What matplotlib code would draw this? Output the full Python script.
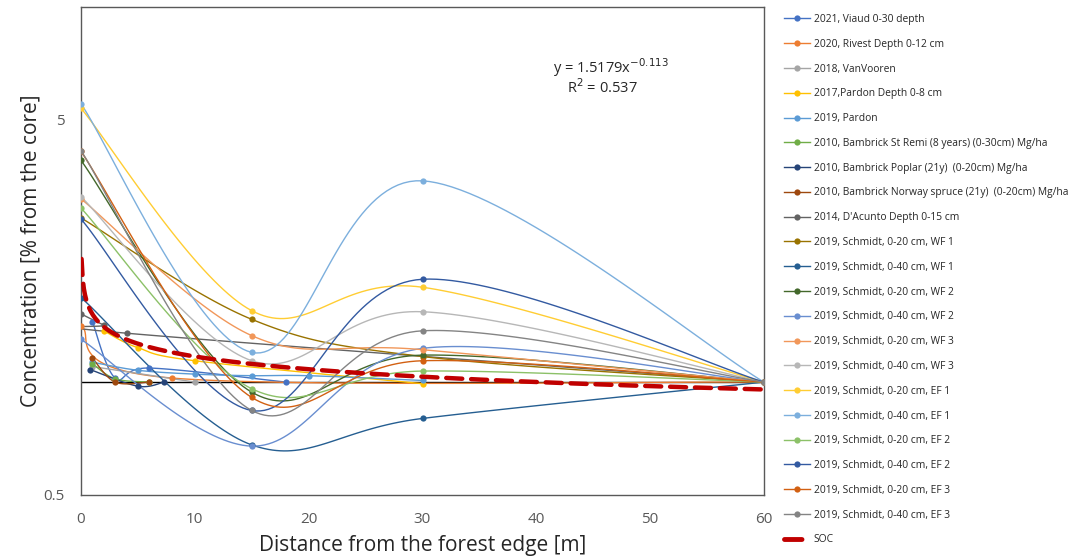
import numpy as np
import matplotlib
matplotlib.use("Agg")
import matplotlib.pyplot as plt
from matplotlib.lines import Line2D

# ---------------- data ----------------
labels = [
    "2021, Viaud 0-30 depth",
    "2020, Rivest Depth 0-12 cm",
    "2018, VanVooren",
    "2017,Pardon Depth 0-8 cm",
    "2019, Pardon",
    "2010, Bambrick St Remi (8 years) (0-30cm) Mg/ha",
    "2010, Bambrick Poplar (21y)  (0-20cm) Mg/ha",
    "2010, Bambrick Norway spruce (21y)  (0-20cm) Mg/ha",
    "2014, D'Acunto Depth 0-15 cm",
    "2019, Schmidt, 0-20 cm, WF 1",
    "2019, Schmidt, 0-40 cm, WF 1",
    "2019, Schmidt, 0-20 cm, WF 2",
    "2019, Schmidt, 0-40 cm, WF 2",
    "2019, Schmidt, 0-20 cm, WF 3",
    "2019, Schmidt, 0-40 cm, WF 3",
    "2019, Schmidt, 0-20 cm, EF 1",
    "2019, Schmidt, 0-40 cm, EF 1",
    "2019, Schmidt, 0-20 cm, EF 2",
    "2019, Schmidt, 0-40 cm, EF 2",
    "2019, Schmidt, 0-20 cm, EF 3",
    "2019, Schmidt, 0-40 cm, EF 3",
]
colors = ["#4472C4", "#ED7D31", "#A5A5A5", "#FFC000", "#5B9BD5", "#70AD47",
          "#264478", "#9E480E", "#636363", "#997300", "#255E91", "#43682B",
          "#698ED0", "#F1975A", "#B7B7B7", "#FFCD33", "#7CAFDD", "#8CC168",
          "#335AA1", "#D26012", "#848484"]

viaud_x = [1, 3, 6, 18]
viaud_y = [1.45, 1.025, 1.09, 1.0]
rivest_x = [0, 8, 60]
rivest_y = [1.41, 1.025, 1.0]
vanvooren_x = [1, 10]
vanvooren_y = [1.10, 1.0]
pardon17_x = [2, 5, 10, 30]
pardon17_y = [1.37, 1.235, 1.14, 0.99]
pardon19_x = [1, 5, 10, 15, 20, 30]
pardon19_y = [1.13, 1.075, 1.05, 1.04, 1.04, 1.01]
stremi_x = [1, 3, 6]
stremi_y = [1.12, 1.02, 1.0]
poplar_x = [0.8, 5, 7.3]
poplar_y = [1.08, 0.975, 1.0]
spruce_x = [1, 3, 6]
spruce_y = [1.16, 1.0, 1.0]
dacunto_x = [0, 2, 4, 60]
dacunto_y = [1.52, 1.42, 1.35, 1.0]

schmidt_x = [0, 15, 30, 60]
wf1_20 = [2.74, 1.47, 1.17, 1.0]
wf1_40 = [1.68, 0.68, 0.80, 1.0]
wf2_20 = [3.90, 0.94, 1.18, 1.0]
wf2_40 = [1.30, 0.675, 1.23, 1.0]
wf3_20 = [3.08, 1.33, 1.22, 1.0]
wf3_40 = [3.12, 1.14, 1.54, 1.0]
ef1_20 = [5.37, 1.55, 1.79, 1.0]
ef1_40 = [5.52, 1.20, 3.44, 1.0]
ef2_20 = [2.91, 0.96, 1.07, 1.0]
ef2_40 = [2.72, 0.84, 1.88, 1.0]
ef3_20 = [4.12, 0.91, 1.14, 1.0]
ef3_40 = [4.14, 0.84, 1.37, 1.0]

series_x = [viaud_x, rivest_x, vanvooren_x, pardon17_x, pardon19_x, stremi_x,
            poplar_x, spruce_x, dacunto_x] + [schmidt_x] * 12
series_y = [viaud_y, rivest_y, vanvooren_y, pardon17_y, pardon19_y, stremi_y,
            poplar_y, spruce_y, dacunto_y, wf1_20, wf1_40, wf2_20, wf2_40,
            wf3_20, wf3_40, ef1_20, ef1_40, ef2_20, ef2_40, ef3_20, ef3_40]

# SOC power trendline  y = a * x^b
soc_a = 1.5179
soc_b = -0.113
soc_r2 = 0.537

x_ticks = [0, 10, 20, 30, 40, 50, 60]
y_ticks = [0.5, 5]


def smooth(xs, ys, n=40):
    """Excel-like smoothed line (Catmull-Rom Bezier) in (x, log y) space."""
    P = np.column_stack([np.asarray(xs, float), np.log10(np.asarray(ys, float))])
    if len(P) < 2:
        return P[:, 0], 10 ** P[:, 1]
    out = [P[0]]
    t = np.linspace(0, 1, n)[1:, None]
    for i in range(len(P) - 1):
        p0, p1 = P[i], P[i + 1]
        prev = P[i - 1] if i > 0 else p0
        nxt = P[i + 2] if i + 2 < len(P) else p1
        c1 = p0 + (p1 - prev) / 6.0
        c2 = p1 - (nxt - p0) / 6.0
        seg = ((1 - t) ** 3) * p0 + 3 * ((1 - t) ** 2) * t * c1 + 3 * (1 - t) * t ** 2 * c2 + t ** 3 * p1
        out.extend(seg)
    out = np.array(out)
    return out[:, 0], 10 ** out[:, 1]


plt.rcParams['font.family'] = ['Open Sans', 'DejaVu Sans']

fig = plt.figure(figsize=(10.76, 5.57), dpi=100)
ax = fig.add_axes([81 / 1076, 1 - 495 / 557, (764 - 81) / 1076, (495 - 7) / 557])

soc_ls = (0, (3.6, 2.0))

handles = []
for xs, ys, c, lab in zip(series_x, series_y, colors, labels):
    sx, sy = smooth(xs, ys)
    ax.plot(sx, sy, color=c, lw=1.0, zorder=3)
    ax.plot(xs, ys, 'o', color=c, ms=4.5, zorder=4, markeredgewidth=0)
    handles.append(Line2D([], [], color=c, lw=1.0, marker='o', ms=4.5,
                          markeredgewidth=0))

xt = np.linspace(0.05, 60, 600)
ax.plot(xt, soc_a * xt ** soc_b, color="#C00000", lw=3.2, ls=soc_ls,
        zorder=5, dash_capstyle='round')
handles.append(Line2D([], [], color="#C00000", lw=3.5, ls=soc_ls, dash_capstyle='round'))
labels_all = labels + ["SOC"]

ax.axhline(1.0, color='black', lw=1.0, zorder=2)

ax.set_yscale('log')
ax.set_ylim(0.5, 10)
ax.set_xlim(0, 60)
ax.set_yticks(y_ticks)
ax.set_yticklabels(["0.5", "5"])
ax.yaxis.set_minor_locator(matplotlib.ticker.NullLocator())
ax.set_xticks(x_ticks)
ax.tick_params(length=0, labelsize=11, colors='#595959')
ax.tick_params(axis='x', pad=12)
ax.tick_params(axis='y', pad=12)
for s in ax.spines.values():
    s.set_color('#595959')
    s.set_linewidth(1.0)

ax.set_xlabel("Distance from the forest edge [m]", fontsize=15, color='#262626', labelpad=6)
ax.set_ylabel("Concentration [% from the core]", fontsize=15, color='#262626', labelpad=1)

ax.text(0.776, 0.876, "y = 1.5179x$^{-0.113}$", transform=ax.transAxes,
        ha='center', va='center', fontsize=10.5, color='#262626')
ax.text(0.764, 0.834, "R$^{2}$ = 0.537", transform=ax.transAxes,
        ha='center', va='center', fontsize=10.5, color='#262626')

fig.legend(handles, labels_all, loc='upper left', bbox_to_anchor=(784 / 1076, 1 - 14 / 557),
           frameon=False, fontsize=7.35, handlelength=2.5, handletextpad=0.4,
           labelspacing=1.35, borderaxespad=0, borderpad=0, labelcolor='#262626')

fig.savefig("out.png", dpi=100)
